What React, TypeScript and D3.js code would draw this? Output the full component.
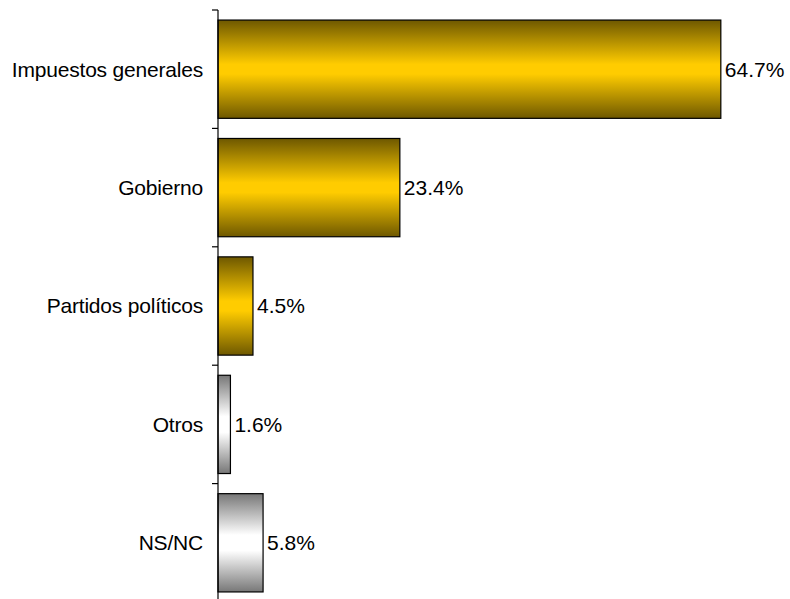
import React from "react";
import * as d3 from "d3";

const categories = ["Impuestos generales", "Gobierno", "Partidos políticos", "Otros", "NS/NC"];
const values = [64.7, 23.4, 4.5, 1.6, 5.8];
const valueLabels = ["64.7%", "23.4%", "4.5%", "1.6%", "5.8%"];
const fillKeys = ["gold", "gold", "gold", "gray", "gray"];

const W = 790;
const H = 599;
const AXIS_X = 218;
const TOP = 10;
const BOTTOM = 602;

export default function App() {
  const x = d3.scaleLinear().domain([0, 73.6]).range([AXIS_X, W]);
  const y = d3
    .scaleBand<string>()
    .domain(categories)
    .range([TOP, BOTTOM])
    .paddingInner(0.17)
    .paddingOuter(0.085);
  const step = y.step();
  const tickYs = d3.range(categories.length + 1).map((i) => TOP + i * step);
  const font = "'Liberation Sans', Arial, Helvetica, sans-serif";

  return (
    <svg
      width={W}
      height={H}
      style={{ position: "absolute", left: 0, top: 0, background: "#fff" }}
    >
      <defs>
        <linearGradient id="gold" x1="0" y1="0" x2="0" y2="1">
          <stop offset="0" stopColor="#6e5800" />
          <stop offset="0.45" stopColor="#ffcc00" />
          <stop offset="0.55" stopColor="#ffcc00" />
          <stop offset="1" stopColor="#6e5800" />
        </linearGradient>
        <linearGradient id="gray" x1="0" y1="0" x2="0" y2="1">
          <stop offset="0" stopColor="#777777" />
          <stop offset="0.42" stopColor="#ffffff" />
          <stop offset="0.58" stopColor="#ffffff" />
          <stop offset="1" stopColor="#777777" />
        </linearGradient>
      </defs>
      {categories.map((c, i) => {
        const by = y(c) as number;
        const bw = x(values[i]) - x(0);
        return (
          <g key={c}>
            <rect
              x={x(0)}
              y={by}
              width={bw}
              height={y.bandwidth()}
              fill={`url(#${fillKeys[i]})`}
              stroke="#000"
              strokeWidth={1.2}
            />
            <text
              x={x(values[i]) + 4}
              y={by + y.bandwidth() / 2}
              dy="0.35em"
              fontFamily={font}
              fontSize={21}
              fill="#000"
            >
              {valueLabels[i]}
            </text>
            <text
              x={AXIS_X - 15}
              y={by + y.bandwidth() / 2}
              dy="0.35em"
              textAnchor="end"
              fontFamily={font}
              fontSize={21}
              letterSpacing={-0.2}
              fill="#000"
            >
              {c}
            </text>
          </g>
        );
      })}
      <line x1={AXIS_X} x2={AXIS_X} y1={TOP} y2={BOTTOM} stroke="#000" strokeWidth={1.2} />
      {tickYs.map((ty, i) => (
        <line key={i} x1={AXIS_X - 6} x2={AXIS_X} y1={ty} y2={ty} stroke="#000" strokeWidth={1.2} />
      ))}
    </svg>
  );
}
